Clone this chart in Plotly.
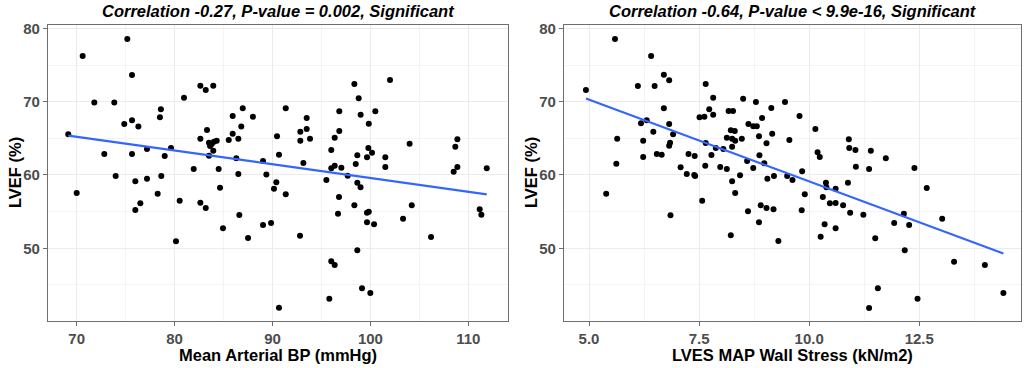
import numpy as np
import plotly.graph_objects as go

# ---------------- data ----------------
map_bp = [69.14, 70.61, 75.17, 75.65, 71.8, 73.84, 74.86, 75.65, 76.3, 78.6,
          78.5, 80.96, 82.63, 83.18, 83.95, 83.31, 82.63, 83.51, 83.79, 84.02,
          84.3, 83.62, 83.95, 83.51, 85.93, 86.96, 88.0, 85.93, 86.81, 85.53,
          86.51, 90.46, 91.35, 90.66, 89.03, 86.3, 72.82, 75.65, 77.18, 79.63,
          78.99, 81.95, 84.5, 70.0, 73.98, 75.99, 77.18, 78.64, 78.27, 76.5,
          75.99, 86.51, 89.37, 90.39, 90.15, 91.35, 84.64, 80.52, 82.63, 83.18,
          86.61, 84.94, 87.5, 89.03, 89.85, 80.14, 90.66, 93.15, 92.84, 92.84,
          93.49, 93.49, 93.83, 98.36, 98.8, 102.0, 96.82, 100.5, 99.0, 99.83,
          96.82, 96.35, 96.0, 98.66, 99.79, 100.16, 99.65, 101.52, 98.5, 101.52,
          104.0, 108.88, 108.67, 108.88, 111.88, 96.0, 96.35, 97.03, 108.5, 95.5,
          97.68, 98.66, 98.99, 96.79, 98.36, 96.69, 99.65, 99.83, 99.65, 100.37,
          103.33, 104.22, 92.81, 106.19, 111.16, 111.33, 98.66, 96.0, 96.35, 99.14,
          99.99, 95.8]
lvef_map = [65.55, 76.23, 78.55, 73.64, 69.9, 69.9, 66.96, 67.46, 66.6, 68.96,
            67.87, 70.55, 72.18, 71.6, 72.18, 66.14, 64.95, 64.41, 64.23, 64.54,
            64.68, 63.95, 63.32, 62.63, 68.05, 69.1, 67.95, 65.63, 66.6, 64.77,
            64.95, 65.28, 69.1, 62.77, 61.91, 62.28, 62.86, 62.86, 63.55, 63.68,
            62.59, 60.8, 60.8, 57.54, 59.86, 59.14, 59.5, 59.86, 57.45, 56.14,
            55.22, 60.14, 60.05, 59.0, 58.13, 57.37, 58.27, 56.49, 56.22, 55.5,
            54.54, 52.73, 51.4, 53.18, 53.45, 50.96, 41.9, 61.64, 65.91, 64.68,
            66.27, 67.77, 64.95, 72.41, 70.46, 72.96, 68.69, 68.69, 68.23, 67.0,
            66.0, 65.09, 63.41, 62.69, 63.68, 63.04, 62.41, 62.41, 61.5, 61.09,
            64.27, 64.87, 63.86, 61.09, 60.91, 60.91, 61.27, 61.0, 60.45, 59.32,
            59.9, 58.95, 58.32, 57.0, 55.87, 54.72, 54.86, 54.99, 53.55, 53.27,
            54.04, 55.87, 51.72, 51.54, 55.32, 54.58, 49.73, 48.23, 47.72, 44.54,
            43.9, 43.12]

wall_stress = [4.93, 5.59, 6.41, 6.11, 6.49, 6.70, 6.82, 6.70, 6.31, 6.18,
               6.82, 6.46, 6.91, 5.64, 6.23, 6.84, 6.82, 6.23, 6.54, 6.65,
               5.62, 7.65, 7.82, 8.5, 8.79, 9.45, 7.73, 7.82, 7.51, 7.62,
               8.17, 8.27, 9.14, 8.93, 8.62, 8.73, 8.81, 8.22, 8.31, 9.16,
               8.86, 8.13, 8.25, 8.32, 8.47, 9.55, 9.03, 7.65, 7.88, 8.05,
               8.25, 7.26, 7.40, 7.78, 8.87, 8.59, 8.98, 7.64, 7.98, 8.13,
               8.73, 7.08, 9.78, 10.14, 10.90, 10.91, 11.05, 11.40, 10.19, 10.24,
               11.74, 11.06, 11.36, 12.39, 5.39, 6.85, 7.22, 7.39, 7.41, 7.57,
               8.25, 8.43, 8.32, 8.22, 9.05, 9.2, 9.5, 8.61, 8.9, 9.03,
               9.19, 8.86, 9.3, 9.62, 9.84, 9.9, 9.83, 10.38, 10.39, 10.6,
               10.31, 10.47, 10.6, 10.77, 10.88, 10.93, 11.23, 10.35, 10.6, 10.26,
               11.5, 11.93, 12.15, 12.27, 12.67, 13.02, 12.17, 13.29, 13.99, 14.41,
               11.56, 12.46, 11.36]
lvef_ws = [71.6, 78.55, 76.23, 72.14, 72.14, 73.69, 72.91, 69.1, 67.46, 67.05,
           66.96, 65.91, 65.55, 64.95, 64.68, 64.41, 64.0, 62.45, 62.86, 62.77,
           61.54, 72.41, 70.55, 70.41, 69.96, 69.96, 68.96, 68.23, 67.87, 67.95,
           68.73, 68.73, 69.14, 67.78, 66.96, 66.64, 66.64, 66.09, 66.0, 65.63,
           65.28, 65.09, 64.95, 64.68, 64.95, 64.77, 64.32, 64.37, 63.68, 63.55,
           63.86, 62.86, 62.59, 62.73, 62.69, 61.91, 61.6, 61.27, 61.09, 60.82,
           60.95, 61.05, 68.05, 66.27, 64.87, 63.68, 63.41, 63.32, 63.1, 62.46,
           62.28, 61.13, 60.82, 60.95, 57.45, 54.5, 60.14, 60.0, 59.86, 56.49,
           59.14, 59.96, 57.54, 51.77, 59.5, 59.86, 59.86, 55.04, 55.87, 55.5,
           55.32, 53.55, 51.0, 59.32, 60.5, 57.37, 55.18, 58.95, 58.32, 58.13,
           57.0, 56.14, 56.18, 55.87, 58.95, 54.86, 54.58, 53.27, 52.73, 51.58,
           51.36, 53.45, 54.72, 53.18, 58.23, 54.04, 49.73, 48.17, 47.72, 43.9,
           44.54, 43.12, 41.85]

panel_titles = ["Correlation -0.27, P-value = 0.002, Significant",
                "Correlation -0.64, P-value < 9.9e-16, Significant"]
x_titles = ["Mean Arterial BP (mmHg)", "LVES MAP Wall Stress (kN/m2)"]
y_title = "LVEF (%)"
left_xticks = [70, 80, 90, 100, 110]
right_xticks = [5.0, 7.5, 10.0, 12.5]
y_ticks = [50, 60, 70, 80]

# ---------------- figure ----------------
W, H = 1026, 368


def fx(p):
    return p / W


def fy(p):
    return 1 - p / H


left_dom = [fx(48), fx(508)]
right_dom = [fx(564), fx(1021)]
y_dom = [fy(321), fy(25)]

LINE_BLUE = "#3366FF"


def fit_line(x, y):
    x = np.asarray(x, float)
    y = np.asarray(y, float)
    b, a = np.polyfit(x, y, 1)
    xs = np.array([x.min(), x.max()])
    return xs, a + b * xs


fig = go.Figure()
for i, (xv, yv) in enumerate([(map_bp, lvef_map), (wall_stress, lvef_ws)]):
    xa = "x" if i == 0 else "x2"
    ya = "y" if i == 0 else "y2"
    fig.add_trace(go.Scatter(x=xv, y=yv, mode="markers", xaxis=xa, yaxis=ya,
                             marker=dict(color="black", size=6),
                             showlegend=False, hoverinfo="x+y"))
    lx, ly = fit_line(xv, yv)
    fig.add_trace(go.Scatter(x=lx, y=ly, mode="lines", xaxis=xa, yaxis=ya,
                             line=dict(color=LINE_BLUE, width=2.2),
                             showlegend=False, hoverinfo="skip"))

tickfont = dict(family="Liberation Sans, Arial", size=15, color="#4d4d4d", weight="bold")
common = dict(showline=True, mirror=True, linecolor="#6e6e6e", linewidth=1.2,
              ticks="outside", ticklen=4, tickcolor="#6e6e6e", tickwidth=1,
              showgrid=True, gridcolor="#ebebeb", gridwidth=1, zeroline=False,
              tickfont=tickfont, automargin=False, layer="below traces")

minor_y = dict(dtick=5, tick0=45, showgrid=True, gridcolor="#f4f4f4",
               gridwidth=0.8, ticklen=0)

fig.update_layout(
    width=W, height=H,
    margin=dict(l=0, r=0, t=0, b=0),
    paper_bgcolor="white", plot_bgcolor="white",
    xaxis=dict(domain=left_dom, anchor="y", range=[67.07, 114.05],
               tickvals=left_xticks, ticktext=[str(v) for v in left_xticks],
               minor=dict(dtick=5, tick0=65, showgrid=True, gridcolor="#f4f4f4",
                          gridwidth=0.8, ticklen=0),
               **common),
    yaxis=dict(domain=y_dom, anchor="x", range=[40.08, 80.46],
               tickvals=y_ticks, ticktext=[str(v) for v in y_ticks],
               minor=minor_y, **common),
    xaxis2=dict(domain=right_dom, anchor="y2", range=[4.432, 14.81],
                tickvals=right_xticks, ticktext=[f"{v:.1f}" for v in right_xticks],
                minor=dict(dtick=1.25, tick0=3.75, showgrid=True, gridcolor="#f4f4f4",
                           gridwidth=0.8, ticklen=0),
                **common),
    yaxis2=dict(domain=y_dom, anchor="x2", range=[40.08, 80.46],
                tickvals=y_ticks, ticktext=[str(v) for v in y_ticks],
                minor=minor_y, **common),
)

annots = []
centers = [(48 + 508) / 2, (564 + 1021) / 2]
ytitle_x = [15, 531]
for i in range(2):
    annots.append(dict(text=panel_titles[i], x=fx(centers[i]), y=fy(11),
                       xref="paper", yref="paper", showarrow=False,
                       xanchor="center", yanchor="middle",
                       font=dict(family="Liberation Sans, Arial", size=16.5,
                                 color="black", weight="bold", style="italic")))
    annots.append(dict(text=x_titles[i], x=fx(centers[i]), y=fy(355),
                       xref="paper", yref="paper", showarrow=False,
                       xanchor="center", yanchor="middle",
                       font=dict(family="Liberation Sans, Arial", size=16.5,
                                 color="black", weight="bold")))
    annots.append(dict(text=y_title, x=fx(ytitle_x[i]), y=fy(173),
                       xref="paper", yref="paper", showarrow=False, textangle=-90,
                       xanchor="center", yanchor="middle",
                       font=dict(family="Liberation Sans, Arial", size=16.5,
                                 color="black", weight="bold")))
fig.update_layout(annotations=annots)

# remove the default 8 px page margin so the figure fills the window exactly
fig.write_html("out.html",
               config={"displayModeBar": False},
               post_script="document.body.style.margin='0px';"
                           "document.body.style.overflow='hidden';")
